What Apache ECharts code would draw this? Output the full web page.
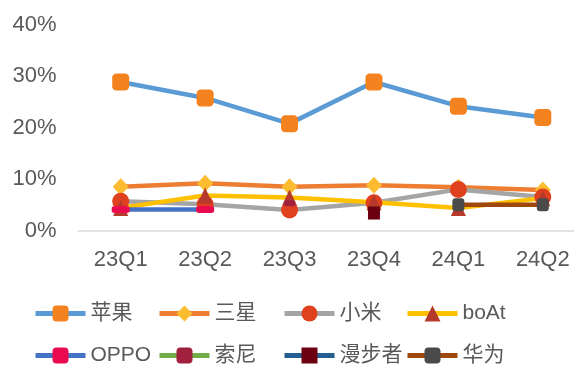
<!DOCTYPE html>
<html>
<head>
<meta charset="utf-8">
<script src="https://cdn.jsdelivr.net/npm/echarts@6/dist/echarts.min.js"></script>
<style>html,body{margin:0;padding:0;background:#fff;}#c{width:574px;height:365px;}</style>
</head>
<body>
<div id="c"></div>
<script>
var categories = ['23Q1', '23Q2', '23Q3', '23Q4', '24Q1', '24Q2'];
var yTicks = [0, 10, 20, 30, 40];
var apple = [28.9, 25.8, 20.8, 28.9, 24.2, 22.0];
var samsung = [8.5, 9.2, 8.5, 8.8, 8.4, 7.9];
var xiaomi = [5.7, 5.1, 4.0, 5.4, 8.0, 6.5];
var boat = [4.4, 6.8, 6.4, 5.5, 4.4, 6.3];
var oppo = [4.1, 4.1, null, null, null, null];
var sony = [null, null, 5.3, null, null, null];
var edifier = [null, null, null, 3.4, null, null];
var huawei = [null, null, null, null, 5.0, 5.0];
var seriesNames = ['苹果', '三星', '小米', 'boAt', 'OPPO', '索尼', '漫步者', '华为'];

var specs = [
  {data: apple, line: '#5B9BD5', mk: '#F4821F', sym: 'roundRect', size: [17, 17]},
  {data: samsung, line: '#ED7D31', mk: '#FDBB2F', sym: 'diamond', size: [16, 17]},
  {data: xiaomi, line: '#A5A5A5', mk: '#DF401D', sym: 'circle', size: [17, 17]},
  {data: boat, line: '#FFC000', mk: '#B53A2B', sym: 'triangle', size: [15, 16]},
  {data: oppo, line: '#4472C4', mk: '#EA0A50', sym: 'roundRect', size: [18, 7]},
  {data: sony, line: '#70AD47', mk: '#A1203E', sym: 'roundRect', size: [11, 6]},
  {data: edifier, line: '#255E91', mk: '#6B0010', sym: 'rect', size: [12, 13]},
  {data: huawei, line: '#9E480E', mk: '#4A4A4A', sym: 'roundRect', size: [12, 13]}
];

var series = specs.map(function (s, i) {
  return {
    name: seriesNames[i],
    type: 'line',
    data: s.data,
    symbol: s.sym,
    symbolSize: s.size,
    showSymbol: true,
    showAllSymbol: true,
    connectNulls: false,
    lineStyle: {color: s.line, width: 4.5},
    itemStyle: {color: s.mk, borderWidth: 0},
    emphasis: {disabled: true}
  };
});

var cols = [33, 157, 282, 405];
var rows = [303, 345];
var legends = seriesNames.map(function (n, i) {
  return {
    data: [{name: n}],
    left: cols[i % 4],
    top: rows[Math.floor(i / 4)],
    itemWidth: 50,
    itemHeight: 20,
    itemGap: 0,
    padding: 0,
    lineStyle: {width: 5},
    textStyle: {fontSize: 21, color: '#595959', fontFamily: 'Liberation Sans, Noto Sans CJK SC, sans-serif'}
  };
});

var chart = echarts.init(document.getElementById('c'), null, {renderer: 'canvas'});
chart.setOption({
  animation: false,
  backgroundColor: '#fff',
  grid: {left: 78.5, width: 506.5, top: 25, height: 205.5, containLabel: false, outerBoundsMode: 'none'},
  legend: legends,
  xAxis: {
    type: 'category',
    data: categories,
    boundaryGap: true,
    axisLine: {lineStyle: {color: '#D9D9D9', width: 1.5}},
    axisTick: {show: false},
    axisLabel: {fontSize: 22, color: '#595959', margin: 18, fontFamily: 'Liberation Sans, sans-serif'}
  },
  yAxis: {
    type: 'value',
    min: yTicks[0],
    max: yTicks[yTicks.length - 1],
    interval: 10,
    axisLine: {show: false},
    axisTick: {show: false},
    splitLine: {show: false},
    axisLabel: {fontSize: 22, color: '#595959', margin: 22, formatter: '{value}%', fontFamily: 'Liberation Sans, sans-serif'}
  },
  series: series
});
</script>
</body>
</html>
